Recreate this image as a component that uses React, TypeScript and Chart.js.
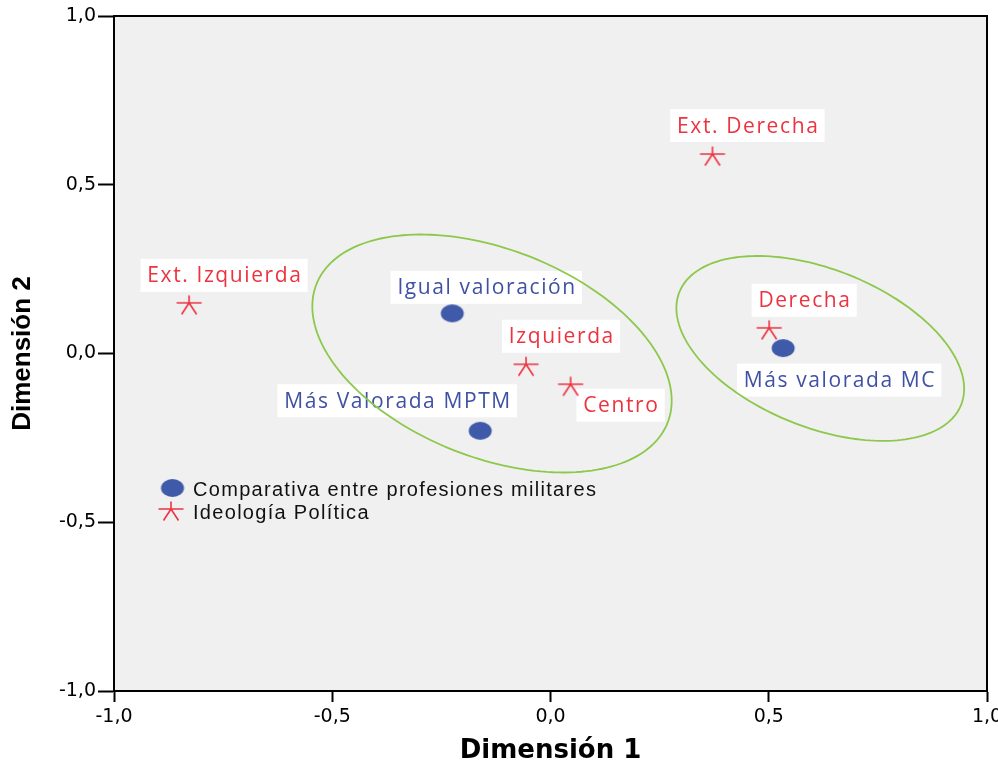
import { useEffect, useRef } from 'react';
import { Chart, registerables } from 'chart.js';

Chart.register(...registerables);

// ---- Data ----
const seriesNames = ['Comparativa entre profesiones militares', 'Ideología Política'];

const blueLabels = ['Igual valoración', 'Más Valorada MPTM', 'Más valorada MC'];
const blueX = [-0.225, -0.161, 0.533];
const blueY = [0.119, -0.229, 0.016];

const redLabels = ['Ext. Izquierda', 'Izquierda', 'Centro', 'Derecha', 'Ext. Derecha'];
const redX = [-0.828, -0.056, 0.046, 0.501, 0.371];
const redY = [0.150, -0.032, -0.091, 0.076, 0.591];

// ellipses: centre and conjugate semi-axis vectors (data units)
const ellipseCX = [-0.134, 0.618];
const ellipseCY = [0.0, 0.015];
const ellipseUX = [0.4023, 0.3227];
const ellipseUY = [-0.2051, -0.1671];
const ellipseVX = [-0.0872, -0.0671];
const ellipseVY = [-0.2868, -0.2171];

const tickValues = [-1, -0.5, 0, 0.5, 1];

// ---- Styles ----
const BLUE = '#3f5aa9';
const BLUE_TEXT = '#3f51a3';
const RED = '#ec3340';
const GREEN = '#8cc84b';
const BG = '#f0f0f0';

// label placement (pixel offset of label centre from its point)
const blueLabelOffsets = [[34, -26], [-83, -30], [56, 32]];
const redLabelOffsets = [[35, -27.5], [35, -28], [50, 21], [35, -27.5], [35, -28.5]];

function makeCircle(): HTMLCanvasElement {
  const c = document.createElement('canvas');
  c.width = 26; c.height = 22;
  const g = c.getContext('2d')!;
  g.fillStyle = BLUE;
  g.beginPath();
  g.ellipse(13, 11, 11.5, 9, 0, 0, Math.PI * 2);
  g.fill();
  return c;
}

function makeStar(): HTMLCanvasElement {
  const c = document.createElement('canvas');
  c.width = 30; c.height = 30;
  const g = c.getContext('2d')!;
  g.strokeStyle = RED;
  g.lineWidth = 1.6;
  const cx = 15, cy = 15;
  g.beginPath();
  g.moveTo(cx - 12.5, cy); g.lineTo(cx + 12.5, cy);
  g.moveTo(cx, cy); g.lineTo(cx, cy - 7.5);
  g.moveTo(cx, cy); g.lineTo(cx - 7.5, cy + 11.5);
  g.moveTo(cx, cy); g.lineTo(cx + 7.5, cy + 11.5);
  g.stroke();
  return c;
}

const fmt = (v: number) => v.toFixed(1).replace('.', ',');

Chart.defaults.font.family = 'DejaVu Sans';
Chart.defaults.font.size = 19;
Chart.defaults.color = '#000';

export default function App() {
  const ref = useRef<HTMLCanvasElement>(null);

  useEffect(() => {
    document.body.style.margin = '0';
    document.body.style.overflow = 'hidden';
    const circleImg = makeCircle();
    const starImg = makeStar();

    const frame = {
      id: 'frame',
      beforeDraw(chart: any) {
        const { ctx, chartArea: a } = chart;
        ctx.save();
        ctx.fillStyle = BG;
        ctx.fillRect(a.left, a.top, a.right - a.left, a.bottom - a.top);
        ctx.restore();
      },
      afterDraw(chart: any) {
        const { ctx, chartArea: a } = chart;
        ctx.save();
        ctx.strokeStyle = '#000';
        ctx.lineWidth = 2;
        ctx.strokeRect(a.left, a.top, a.right - a.left, a.bottom - a.top);
        ctx.restore();
      },
    };

    const labelsAndEllipses = {
      id: 'labelsAndEllipses',
      beforeDatasetsDraw(chart: any) {
        const { ctx } = chart;
        const sets = [
          { labels: blueLabels, offs: blueLabelOffsets, color: BLUE_TEXT },
          { labels: redLabels, offs: redLabelOffsets, color: RED },
        ];
        ctx.save();
        ctx.font = '21px "Open Sans"';
        try { (ctx as any).letterSpacing = '1.6px'; } catch (e) { /* ignore */ }
        ctx.textAlign = 'center';
        ctx.textBaseline = 'middle';
        sets.forEach((s, di) => {
          const meta = chart.getDatasetMeta(di);
          meta.data.forEach((el: any, j: number) => {
            const [dx, dy] = s.offs[j];
            const cx = el.x + dx;
            const cy = el.y + dy;
            const w = ctx.measureText(s.labels[j]).width + 12;
            const h = 33;
            ctx.fillStyle = '#ffffff';
            ctx.fillRect(cx - w / 2, cy - h / 2, w, h);
            ctx.fillStyle = s.color;
            ctx.fillText(s.labels[j], cx + 0.8, cy + 1);
          });
        });
        ctx.restore();

        const xs = chart.scales.x;
        const ys = chart.scales.y;
        ctx.save();
        ctx.strokeStyle = GREEN;
        ctx.lineWidth = 1.8;
        for (let k = 0; k < ellipseCX.length; k++) {
          ctx.beginPath();
          const n = 180;
          for (let i = 0; i <= n; i++) {
            const t = (i / n) * Math.PI * 2;
            const vx = ellipseCX[k] + ellipseUX[k] * Math.cos(t) + ellipseVX[k] * Math.sin(t);
            const vy = ellipseCY[k] + ellipseUY[k] * Math.cos(t) + ellipseVY[k] * Math.sin(t);
            const px = xs.getPixelForValue(vx);
            const py = ys.getPixelForValue(vy);
            if (i === 0) ctx.moveTo(px, py); else ctx.lineTo(px, py);
          }
          ctx.closePath();
          ctx.stroke();
        }
        ctx.restore();
      },
    };

    const legendPlugin = {
      id: 'insideLegend',
      afterDraw(chart: any) {
        const { ctx, chartArea: a } = chart;
        const x0 = a.left + 58.5;
        const y0 = a.top + 472;
        ctx.save();
        ctx.drawImage(circleImg, x0 - circleImg.width / 2, y0 - circleImg.height / 2);
        ctx.drawImage(starImg, x0 - 1.5 - starImg.width / 2, y0 + 21 - starImg.height / 2);
        ctx.font = '20px "Liberation Sans", Arial, sans-serif';
        try { (ctx as any).letterSpacing = '1.3px'; } catch (e) { /* ignore */ }
        ctx.fillStyle = '#111';
        ctx.textAlign = 'left';
        ctx.textBaseline = 'middle';
        ctx.fillText(seriesNames[0], a.left + 79, y0 + 2);
        ctx.fillText(seriesNames[1], a.left + 79, y0 + 25);
        ctx.restore();
      },
    };

    const tickFont = { family: 'DejaVu Sans', size: 19 };

    const chart = new Chart(ref.current!, {
      type: 'scatter',
      data: {
        datasets: [
          {
            label: seriesNames[0],
            data: blueX.map((x, i) => ({ x, y: blueY[i] })),
            pointStyle: circleImg as any,
            pointRadius: 10,
            backgroundColor: BLUE,
            borderColor: BLUE,
          },
          {
            label: seriesNames[1],
            data: redX.map((x, i) => ({ x, y: redY[i] })),
            pointStyle: starImg as any,
            pointRadius: 10,
            backgroundColor: RED,
            borderColor: RED,
          },
        ],
      },
      options: {
        responsive: false,
        maintainAspectRatio: false,
        animation: false,
        events: [],
        layout: { padding: { top: 16, right: 10, left: 0, bottom: 0 } },
        plugins: {
          legend: { display: false },
          tooltip: { enabled: false },
        },
        scales: {
          x: {
            type: 'linear',
            position: 'bottom',
            min: -1,
            max: 1,
            afterBuildTicks: (scale: any) => { scale.ticks = tickValues.map((value) => ({ value })); },
            ticks: {
              color: '#000',
              font: tickFont,
              callback: (v: any) => fmt(Number(v)),
              padding: 4,
              maxRotation: 0,
              autoSkip: false,
            },
            grid: { drawOnChartArea: false, drawTicks: true, tickLength: 11, tickWidth: 2, tickColor: '#000' },
            border: { display: true, color: '#000', width: 2 },
            title: {
              display: true,
              text: 'Dimensión 1',
              color: '#000',
              font: { family: 'DejaVu Sans', size: 26, weight: 'bold', lineHeight: 1 },
              padding: { top: 0, bottom: 0 },
            },
            afterFit: (scale: any) => {
              scale.height = 73;
              scale.paddingLeft = 0;
              scale.paddingRight = 0;
            },
          },
          y: {
            type: 'linear',
            position: 'left',
            min: -1,
            max: 1,
            afterBuildTicks: (scale: any) => { scale.ticks = tickValues.map((value) => ({ value })); },
            ticks: {
              color: '#000',
              font: tickFont,
              callback: (v: any) => fmt(Number(v)),
              padding: 2,
              autoSkip: false,
            },
            grid: { drawOnChartArea: false, drawTicks: true, tickLength: 16, tickWidth: 2, tickColor: '#000' },
            border: { display: true, color: '#000', width: 2 },
            title: {
              display: true,
              text: 'Dimensión 2',
              color: '#000',
              font: { family: '"Liberation Sans", Arial, sans-serif', size: 26, weight: 'bold', lineHeight: 1 },
              padding: { top: 10, bottom: 0 },
            },
            afterFit: (scale: any) => {
              scale.width = 114;
              scale.paddingTop = 0;
              scale.paddingBottom = 0;
            },
          },
        },
      },
      plugins: [frame, labelsAndEllipses, legendPlugin],
    } as any);

    return () => chart.destroy();
  }, []);

  return (
    <div style={{ width: 998, height: 764 }}>
      <canvas ref={ref} width={998} height={764} style={{ display: 'block' }} />
    </div>
  );
}
